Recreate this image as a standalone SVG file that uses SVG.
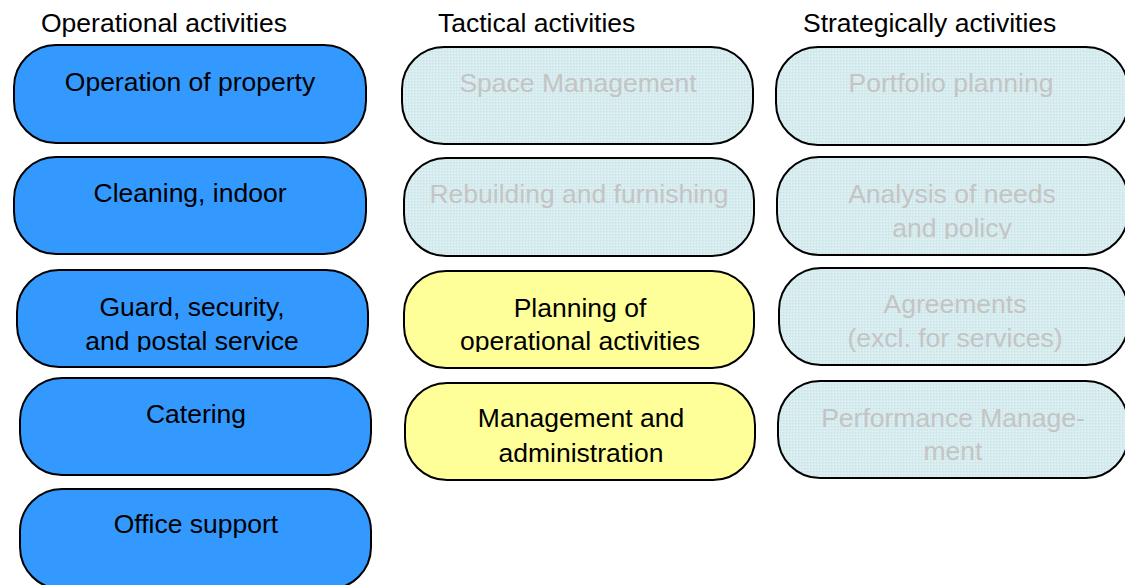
<svg xmlns="http://www.w3.org/2000/svg" width="1125" height="585" viewBox="0 0 1125 585">
<defs>
<style>
text{font-family:"Liberation Sans",Arial,sans-serif;font-size:26.5px;text-anchor:middle}
.hdr{text-anchor:start;fill:#000}
.box{stroke:#000;stroke-width:2}
.blue{fill:#3399ff}
.yel{fill:#ffff99}
.cyan{fill:url(#dots)}
.dark{fill:#000}
.gray{fill:#c4c4c4}
</style>
<pattern id="dots" width="3" height="3" patternUnits="userSpaceOnUse">
<rect width="3" height="3" fill="#d6ecef"/>
<rect width="1" height="1" fill="#c6e0e4"/>
<rect x="2" y="2" width="1" height="1" fill="#e4f3f5"/>
</pattern>
<clipPath id="c1"><rect x="0" y="0" width="1125" height="352"/></clipPath>
<clipPath id="c2"><rect x="0" y="0" width="1125" height="239"/></clipPath>
</defs>
<g id="headers">
<text class="hdr" x="41" y="32">Operational activities</text>
<text class="hdr" x="438" y="32">Tactical activities</text>
<text class="hdr" x="803" y="32">Strategically activities</text>
</g>
<g id="op1"><rect class="box blue" x="14" y="45" width="352" height="98" rx="42"/><text class="dark" x="190" y="91">Operation of property</text></g>
<g id="op2"><rect class="box blue" x="14" y="157" width="352" height="97" rx="42"/><text class="dark" x="190" y="202">Cleaning, indoor</text></g>
<g id="op3"><rect class="box blue" x="17" y="270" width="351" height="97" rx="42"/><g clip-path="url(#c1)"><text class="dark" x="192" y="316">Guard, security,</text><text class="dark" x="192" y="350">and postal service</text></g></g>
<g id="op4"><rect class="box blue" x="20" y="378" width="351" height="97" rx="42"/><text class="dark" x="196" y="423">Catering</text></g>
<g id="op5"><rect class="box blue" x="20" y="489" width="351" height="100" rx="42"/><text class="dark" x="196" y="533">Office support</text></g>
<g id="ta1"><rect class="box cyan" x="402" y="47" width="351" height="97" rx="42"/><text class="gray" x="578" y="92">Space Management</text></g>
<g id="ta2"><rect class="box cyan" x="404" y="158" width="350" height="98" rx="42"/><text class="gray" x="579" y="203">Rebuilding and furnishing</text></g>
<g id="ta3"><rect class="box yel" x="404" y="271" width="350" height="97" rx="42"/><g clip-path="url(#c1)"><text class="dark" x="580" y="317">Planning of</text><text class="dark" x="580" y="350">operational activities</text></g></g>
<g id="ta4"><rect class="box yel" x="405" y="383" width="350" height="97" rx="42"/><text class="dark" x="581" y="427">Management and</text><text class="dark" x="581" y="462">administration</text></g>
<g id="st1"><rect class="box cyan" x="776" y="47" width="352" height="98" rx="42"/><text class="gray" x="951" y="92">Portfolio planning</text></g>
<g id="st2"><rect class="box cyan" x="777" y="157" width="351" height="98" rx="42"/><g clip-path="url(#c2)"><text class="gray" x="952" y="203">Analysis of needs</text><text class="gray" x="952" y="237">and policy</text></g></g>
<g id="st3"><rect class="box cyan" x="779" y="268" width="349" height="97" rx="42"/><text class="gray" x="955" y="313">Agreements</text><text class="gray" x="955" y="347">(excl. for services)</text></g>
<g id="st4"><rect class="box cyan" x="778" y="381" width="350" height="97" rx="42"/><text class="gray" x="953" y="427">Performance Manage-</text><text class="gray" x="953" y="460">ment</text></g>
<g id="connectors"/>
</svg>
